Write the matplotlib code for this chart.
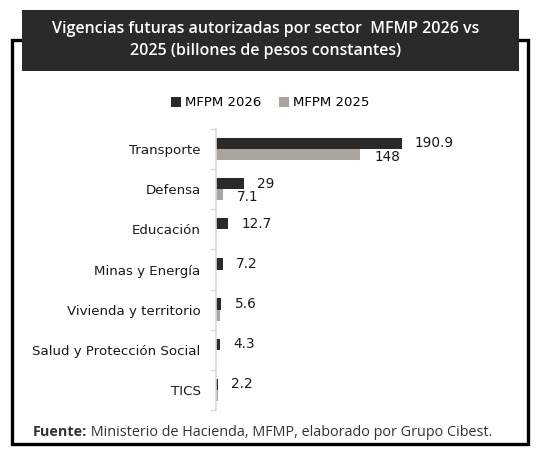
import numpy as np
import matplotlib
matplotlib.use('Agg')
import matplotlib.pyplot as plt
from matplotlib.patches import Rectangle

# data
sectors = ['Transporte', 'Defensa', 'Educación', 'Minas y Energía',
           'Vivienda y territorio', 'Salud y Protección Social', 'TICS']
mfpm_2026 = [190.9, 29, 12.7, 7.2, 5.6, 4.3, 2.2]
mfpm_2025 = [148, 7.1, 0, 0, 4.0, 0, 2.0]
labels_2026 = ['190.9', '29', '12.7', '7.2', '5.6', '4.3', '2.2']
labels_2025 = ['148', '7.1', '', '', '', '', '']

DARK = '#2b2a28'
GREY = '#aaa49f'
W, H = 536, 455

fig = plt.figure(figsize=(W / 100, H / 100), dpi=100)
fig.patch.set_facecolor('white')


def fx(px):
    return px / W


def fy(py):
    return 1 - py / H


# outer frame
frame = Rectangle((fx(12), fy(444)), fx(528) - fx(12), fy(40) - fy(444),
                  transform=fig.transFigure, fill=False, edgecolor='black',
                  linewidth=2.4, zorder=1)
fig.add_artist(frame)

# title banner
banner = Rectangle((fx(22), fy(71)), fx(519) - fx(22), fy(10) - fy(71),
                   transform=fig.transFigure, facecolor=DARK, edgecolor='none', zorder=2)
fig.add_artist(banner)
fig.text(fx(266), fy(40), 'Vigencias futuras autorizadas por sector  MFMP 2026 vs\n'
         '2025 (billones de pesos constantes)', ha='center', va='center',
         color='white', fontsize=11.5, family='Open Sans', fontweight='semibold',
         linespacing=1.55, zorder=3)

# chart axes
ax = fig.add_axes([fx(216), fy(410), fx(510) - fx(216), fy(129) - fy(410)])
y = np.arange(len(sectors))
h = 0.28
ax.barh(y - h / 2, mfpm_2026, height=h, color=DARK, label='MFPM 2026')
ax.barh(y + h / 2, mfpm_2025, height=h, color=GREY, label='MFPM 2025')

scale = 190.9 / (402 - 216)  # data units per pixel
for i in range(len(sectors)):
    ax.text(mfpm_2026[i] + 13 * scale, y[i] - h / 2, labels_2026[i],
            va='center', ha='left', fontsize=9.8, color='#1a1a1a')
    if labels_2025[i]:
        ax.text(mfpm_2025[i] + 14 * scale, y[i] + h / 2 + 0.05, labels_2025[i],
                va='center', ha='left', fontsize=9.8, color='#1a1a1a')

ax.set_xlim(0, (510 - 216) * scale)
ax.set_ylim(len(sectors) - 0.5, -0.5)
ax.set_yticks(y)
ax.set_yticklabels(sectors, fontsize=9.6, color='#1a1a1a')
ax.set_yticks(np.arange(-0.5, len(sectors)), minor=True)
ax.tick_params(axis='y', which='major', length=0, pad=11)
ax.tick_params(axis='y', which='minor', length=4, color='#d9d9d9', width=1)
ax.set_xticks([])
for s in ['top', 'right', 'bottom']:
    ax.spines[s].set_visible(False)
ax.spines['left'].set_color('#d9d9d9')
ax.spines['left'].set_linewidth(1.2)
ax.patch.set_alpha(0)

fig.legend(loc='center', bbox_to_anchor=(fx(270), fy(103)), ncol=2, frameon=False,
           fontsize=9.5, handlelength=0.8, handleheight=0.8, handletextpad=0.3,
           columnspacing=1.3)

# source line: bold "Fuente:" then the rest right after it
src = fig.text(fx(33), fy(432), 'Fuente:', ha='left', va='center', fontsize=10.4,
               family='Open Sans', fontweight='bold', color='#333333')
ax.annotate(' Ministerio de Hacienda, MFMP, elaborado por Grupo Cibest.',
            xy=(1, 0.5), xycoords=src, ha='left', va='center', fontsize=10.4,
            family='Open Sans', color='#333333', annotation_clip=False)

fig.savefig('out.png', dpi=100)
